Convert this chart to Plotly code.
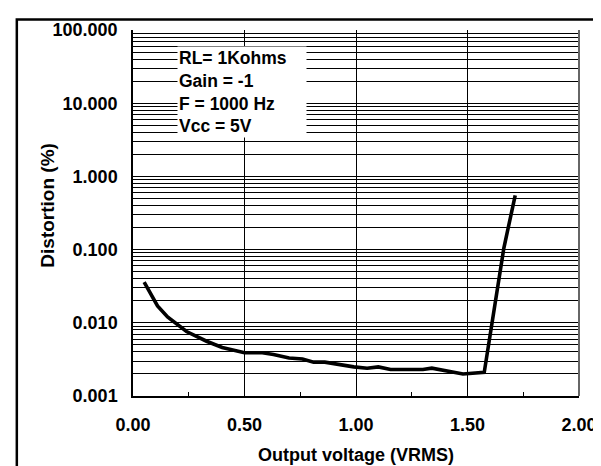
import plotly.graph_objects as go

# ---- data ----
voltage = [0.05, 0.11, 0.155, 0.24, 0.33, 0.40, 0.50, 0.58, 0.63, 0.70, 0.76, 0.81,
           0.86, 0.92, 0.99, 1.05, 1.10, 1.155, 1.21, 1.30, 1.34, 1.40, 1.48, 1.575,
           1.663, 1.714]
distortion = [0.036, 0.017, 0.012, 0.0076, 0.0056, 0.0046, 0.0039, 0.0039, 0.0037,
              0.0033, 0.0032, 0.0029, 0.0029, 0.0027, 0.0025, 0.0024, 0.0025, 0.0023,
              0.0023, 0.0023, 0.0024, 0.0022, 0.0020, 0.0021, 0.105, 0.55]

x_tickvals = [0, 0.5, 1.0, 1.5, 2.0]
x_ticktext = ["0.00", "0.50", "1.00", "1.50", "2.00"]
x_minorvals = [0.25, 0.75, 1.25, 1.75]

y_tickvals = [0.001, 0.01, 0.1, 1, 10, 100]
y_ticktext = ["0.001", "0.010", "0.100", "1.000", "10.000", "100.000"]
y_minorvals = [m * d for d in [0.001, 0.01, 0.1, 1, 10] for m in range(2, 10)]

legend_lines = ["RL= 1Kohms", "Gain = -1", "F = 1000 Hz", "Vcc = 5V"]
x_title = "Output voltage (VRMS)"
y_title = "Distortion (%)"

FONT = "Liberation Sans, Arial, sans-serif"

fig = go.Figure()
fig.add_trace(go.Scatter(x=voltage, y=distortion, mode="lines",
                         line=dict(color="black", width=3.6), showlegend=False))

W, H = 601, 466
L, R, T, B = 125, 23, 18, 66
pw, ph = W - L - R, H - T - B

def px(xp):
    return (xp - L) / pw

def py(yp):
    return (H - B - yp) / ph

fig.update_layout(
    width=W, height=H,
    margin=dict(l=L, r=R, t=T, b=B),
    paper_bgcolor="white", plot_bgcolor="white",
    font=dict(family=FONT, size=18, color="black", weight="bold"),
    xaxis=dict(
        range=[0, 2], tickvals=x_tickvals, ticktext=x_ticktext,
        showgrid=True, gridcolor="black", gridwidth=1,
        showline=True, linecolor="black", linewidth=1.5,
        ticks="", ticklabelstandoff=12, zeroline=False,
        minor=dict(tickvals=x_minorvals, ticks="inside", ticklen=4,
                   tickcolor="black", tickwidth=1, showgrid=False),
        title=dict(text=x_title, standoff=14,
                   font=dict(size=18, weight="bold")),
    ),
    yaxis=dict(
        type="log", range=[-3, 2], tickvals=y_tickvals, ticktext=y_ticktext,
        showgrid=True, gridcolor="black", gridwidth=1,
        showline=True, linecolor="black", linewidth=1.5,
        ticks="", ticklabelstandoff=10, zeroline=False,
        minor=dict(tickvals=y_minorvals, showgrid=True, gridcolor="black",
                   gridwidth=1, ticks=""),
    ),
    shapes=[
        dict(type="line", xref="paper", yref="paper", x0=1, x1=1, y0=0, y1=1,
             line=dict(color="#666666", width=2)),
        dict(type="rect", xref="paper", yref="paper",
             x0=px(7), x1=px(640), y0=py(500), y1=py(7),
             line=dict(color="black", width=2.5), fillcolor="rgba(0,0,0,0)"),
    ],
    annotations=[
        dict(xref="paper", yref="paper", x=px(170), y=py(35),
             xanchor="left", yanchor="top", align="left", showarrow=False,
             text="<br>".join(legend_lines), width=126, borderpad=1,
             bgcolor="white", font=dict(size=17.5, weight="bold")),
        dict(xref="paper", yref="paper", x=px(38), y=py(201),
             xanchor="center", yanchor="middle", showarrow=False,
             textangle=-90, text=y_title, font=dict(size=19, weight="bold")),
    ],
)

fig.write_html("out.html")
